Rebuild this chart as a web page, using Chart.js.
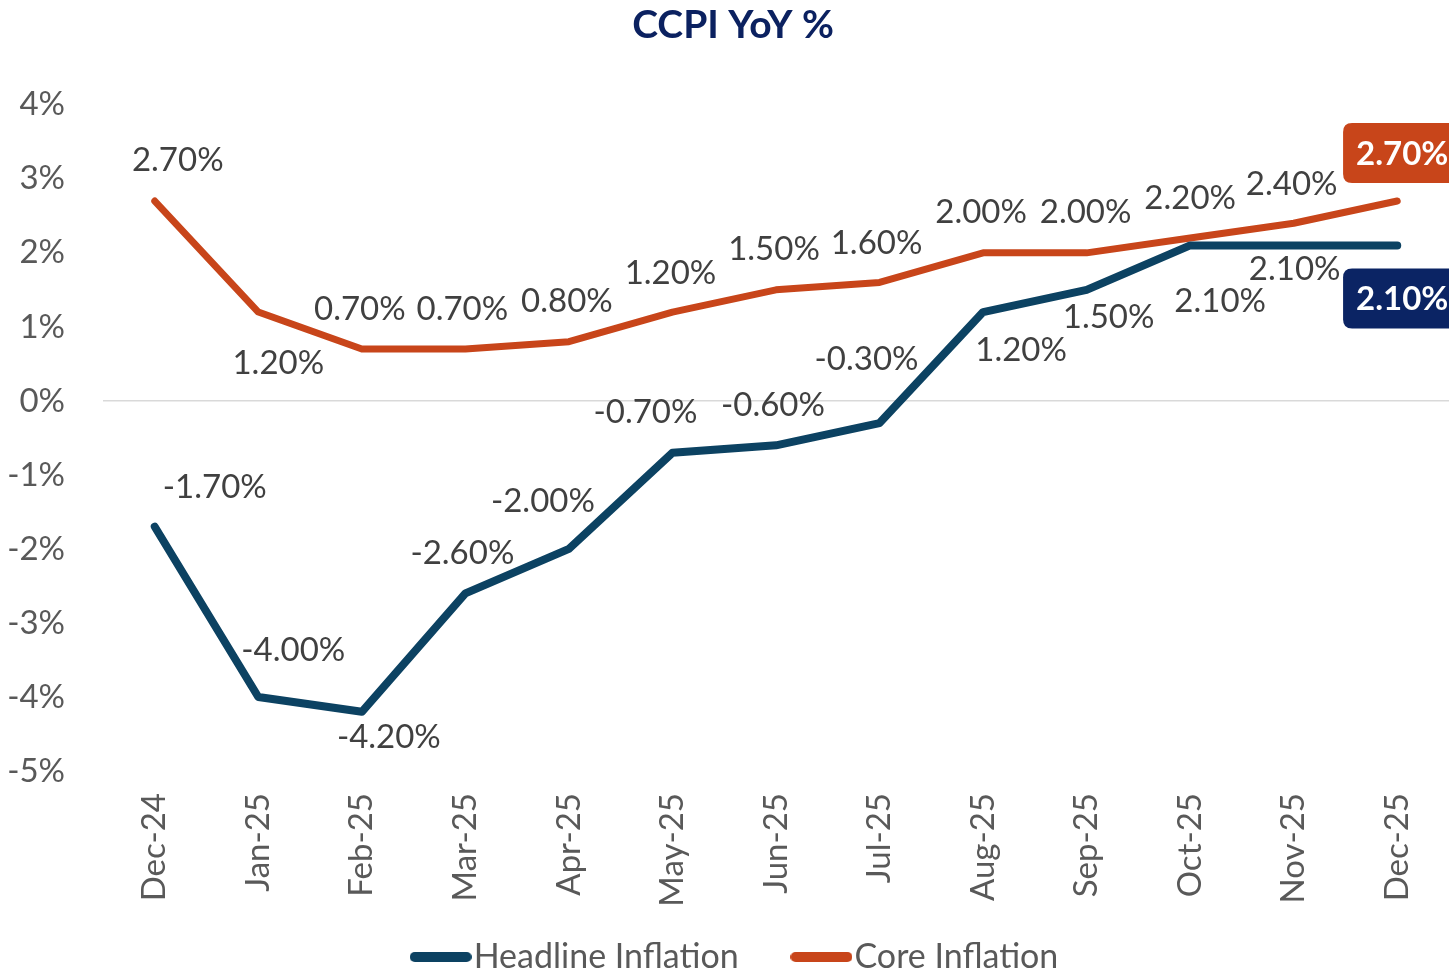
<!DOCTYPE html>
<html>
<head>
<meta charset="utf-8">
<script src="https://cdn.jsdelivr.net/npm/chart.js@4/dist/chart.umd.min.js"></script>
<style>
  html, body { margin: 0; padding: 0; background: #ffffff; }
  #wrap { width: 1449px; height: 974px; position: relative; }
</style>
</head>
<body>
<div id="wrap"><canvas id="c" width="1449" height="974"></canvas></div>
<script>
// ---- data ----
const categories = ['Dec-24','Jan-25','Feb-25','Mar-25','Apr-25','May-25','Jun-25','Jul-25','Aug-25','Sep-25','Oct-25','Nov-25','Dec-25'];
const headlineInflation = [-1.7, -4.0, -4.2, -2.6, -2.0, -0.7, -0.6, -0.3, 1.2, 1.5, 2.1, 2.1, 2.1];
const coreInflation = [2.7, 1.2, 0.7, 0.7, 0.8, 1.2, 1.5, 1.6, 2.0, 2.0, 2.2, 2.4, 2.7];
const yTickValues = [-5, -4, -3, -2, -1, 0, 1, 2, 3, 4];

// ---- label placement (pixel offsets from each point) ----
const headlineLabelDx = [60, 35, 27, -3, -26, -27, -3, -13, 38, 22, 30, 1, 5];
const headlineLabelDy = [-39, -47, 26, -40, -48, -40, -40, -64, 38, 28, 56, 24, 53];
const coreLabelDx = [23, 20, -2, -3, -2, -2, -2, -3, -2, -1, 0, -2, 5];
const coreLabelDy = [-41, 51, -40, -40, -40, -39, -40, -39, -40, -40, -40, -39, -48];

const FONT = 'Lato';
const HEAD_COLOR = '#0C4262';
const CORE_COLOR = '#C8451A';
const HEAD_BOX = '#0B2464';
const CORE_BOX = '#C8451A';

function roundRect(ctx, x, y, w, h, r) {
  ctx.beginPath();
  ctx.moveTo(x + r, y);
  ctx.lineTo(x + w - r, y);
  ctx.quadraticCurveTo(x + w, y, x + w, y + r);
  ctx.lineTo(x + w, y + h - r);
  ctx.quadraticCurveTo(x + w, y + h, x + w - r, y + h);
  ctx.lineTo(x + r, y + h);
  ctx.quadraticCurveTo(x, y + h, x, y + h - r);
  ctx.lineTo(x, y + r);
  ctx.quadraticCurveTo(x, y, x + r, y);
  ctx.closePath();
}

function makeSwatch(color) {
  const c = document.createElement('canvas');
  c.width = 62; c.height = 10;
  const g = c.getContext('2d');
  g.strokeStyle = color;
  g.lineWidth = 10;
  g.lineCap = 'round';
  g.beginPath();
  g.moveTo(5, 5);
  g.lineTo(57, 5);
  g.stroke();
  return c;
}

const labelPlugin = {
  id: 'pointLabels',
  afterLayout(chart) {
    // centre title and legend like the original
    if (chart.titleBlock) { chart.titleBlock.left = 17; chart.titleBlock.right = 1449; }
    if (chart.legend) { chart.legend.left = 34; chart.legend.right = 1449; }
  },
  afterDatasetsDraw(chart) {
    const ctx = chart.ctx;
    const specs = [
      { ds: 0, dx: headlineLabelDx, dy: headlineLabelDy, box: HEAD_BOX },
      { ds: 1, dx: coreLabelDx, dy: coreLabelDy, box: CORE_BOX }
    ];
    ctx.save();
    ctx.textAlign = 'center';
    ctx.textBaseline = 'middle';
    specs.forEach(s => {
      const meta = chart.getDatasetMeta(s.ds);
      const data = chart.data.datasets[s.ds].data;
      meta.data.forEach((pt, i) => {
        const txt = data[i].toFixed(2) + '%';
        const x = pt.x + s.dx[i];
        const y = pt.y + s.dy[i];
        if (i === data.length - 1) {
          ctx.font = 'bold 33px ' + FONT;
          const w = ctx.measureText(txt).width + 26;
          const h = 60;
          ctx.fillStyle = s.box;
          roundRect(ctx, x - w / 2, y - h / 2, w, h, 9);
          ctx.fill();
          ctx.fillStyle = '#ffffff';
          ctx.fillText(txt, x, y + 1);
        } else {
          ctx.font = '33px ' + FONT;
          ctx.fillStyle = '#404040';
          ctx.fillText(txt, x, y);
        }
      });
    });
    ctx.restore();
  }
};

new Chart(document.getElementById('c'), {
  type: 'line',
  data: {
    labels: categories,
    datasets: [
      {
        label: 'Headline Inflation',
        data: headlineInflation,
        borderColor: HEAD_COLOR,
        backgroundColor: HEAD_COLOR,
        borderWidth: 8,
        borderCapStyle: 'round',
        borderJoinStyle: 'round',
        pointRadius: 0,
        tension: 0
      },
      {
        label: 'Core Inflation',
        data: coreInflation,
        borderColor: CORE_COLOR,
        backgroundColor: CORE_COLOR,
        borderWidth: 7,
        borderCapStyle: 'round',
        borderJoinStyle: 'round',
        pointRadius: 0,
        tension: 0
      }
    ]
  },
  options: {
    responsive: false,
    animation: false,
    layout: { padding: { left: 0, right: 0, top: 0, bottom: -10 } },
    plugins: {
      title: {
        display: true,
        text: 'CCPI YoY %',
        color: '#0B2160',
        font: { family: FONT, size: 39, weight: 'bold' },
        padding: { top: 2, bottom: 56 }
      },
      legend: {
        position: 'bottom',
        labels: {
          font: { family: FONT, size: 34 },
          color: '#595959',
          usePointStyle: true,
          pointStyleWidth: 32,
          padding: 32,
          generateLabels(chart) {
            return chart.data.datasets.map((d, i) => ({
              text: i === 0 ? d.label + '    ' : d.label,
              fillStyle: d.borderColor,
              strokeStyle: d.borderColor,
              pointStyle: makeSwatch(d.borderColor),
              lineWidth: 0,
              fontColor: '#595959',
              hidden: false,
              datasetIndex: i
            }));
          }
        }
      },
      tooltip: { enabled: false }
    },
    scales: {
      x: {
        offset: true,
        grid: { display: false, drawTicks: false },
        border: { display: false },
        ticks: {
          color: '#595959',
          font: { family: FONT, size: 33 },
          minRotation: 90,
          maxRotation: 90,
          padding: 22,
          autoSkip: false
        },
        afterFit(scale) {
          scale.height = 137;
          scale.paddingLeft = 0;
          scale.paddingRight = 0;
        }
      },
      y: {
        min: -5,
        max: 4,
        afterBuildTicks(scale) { scale.ticks = yTickValues.map(v => ({ value: v })); },
        grid: {
          drawTicks: false,
          color: ctx => (ctx.tick && ctx.tick.value === 0) ? '#D9D9D9' : 'rgba(0,0,0,0)',
          lineWidth: 1.5
        },
        border: { display: false },
        ticks: {
          color: '#595959',
          font: { family: FONT, size: 33 },
          padding: 38,
          callback: v => v + '%'
        },
        afterFit(scale) { scale.width = 103; }
      }
    }
  },
  plugins: [labelPlugin]
});
</script>
</body>
</html>
